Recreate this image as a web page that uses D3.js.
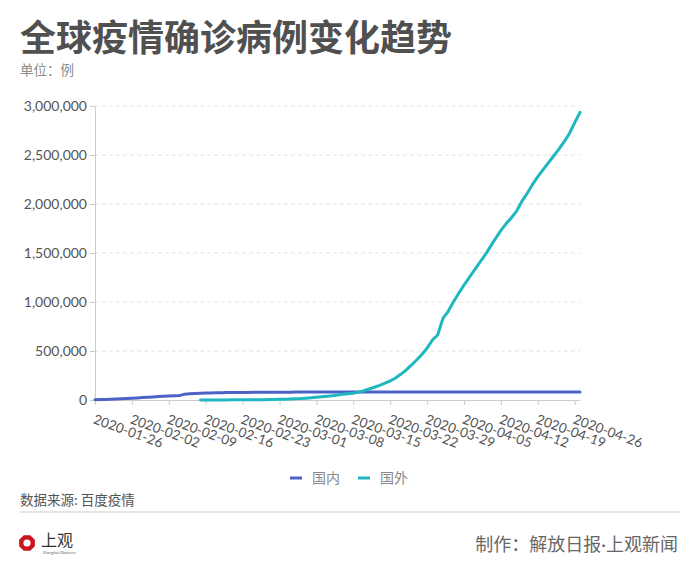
<!DOCTYPE html>
<html>
<head>
<meta charset="utf-8">
<script src="https://cdn.jsdelivr.net/npm/d3@7"></script>
<style>
  body { margin: 0; background: #fff; }
  svg { display: block; font-family: Lato, "Noto Sans CJK SC", sans-serif; }
  .cn { font-family: "Noto Sans CJK SC", sans-serif; }
</style>
</head>
<body>
<svg id="chart" width="700" height="576"></svg>
<script>
// series names
var seriesNames = ["国内", "国外"];

// x ticks (one per week)
var xTickLabels = ["2020-01-26", "2020-02-02", "2020-02-09", "2020-02-16", "2020-02-23",
  "2020-03-01", "2020-03-08", "2020-03-15", "2020-03-22", "2020-03-29",
  "2020-04-05", "2020-04-12", "2020-04-19", "2020-04-26"];

var yTicks = [0, 500000, 1000000, 1500000, 2000000, 2500000, 3000000];

// 国内: daily, 2020-01-26 .. 2020-04-27
var domesticStart = "2020-01-26";
var domestic = [
  2744, 4515, 5974, 7711, 9692, 11791,
  14380, 17205, 20438, 24324, 28018, 31161, 34546, 37198, 40171, 42638, 44653, 59804, 63851, 66492,
  68500, 70548, 72436, 74185, 74576, 75465, 76288, 76936, 77150, 77658, 78064, 78497, 78824, 79251, 79824,
  80026, 80151, 80270, 80409, 80552, 80651, 80695, 80735, 80754, 80778, 80793, 80813, 80824, 80844, 80860,
  80881, 80894, 80928, 80967, 81008, 81054, 81093, 81171, 81218, 81285, 81340, 81394, 81439, 81470, 81518, 81554,
  81589, 81620, 81639, 81669, 81708, 81740, 81802, 81865, 81907, 81953, 82052, 82160, 82249, 82295, 82341,
  82367, 82692, 82719, 82735, 82747, 82788, 82798, 82804, 82816, 82827, 82830, 82836
];

// 国外: daily, 2020-02-15 .. 2020-04-27
var foreignStart = "2020-02-15";
var foreign = [
  530, 640, 790, 900, 1070, 1170, 1400, 1600, 1800, 2100, 2500, 3000, 3700, 4500, 5800,
  7200, 8800, 10500, 12800, 15300, 19000, 23000, 27500, 32000, 37500, 44000, 52000, 59000, 64000, 70000,
  80000, 95000, 112000, 130000, 150000, 172000, 194000, 225000, 262000, 305000, 355000, 408000, 465000,
  530000, 612000, 663000,
  833000, 905000, 1003000, 1090000, 1173000, 1250000, 1327000, 1405000, 1480000, 1565000, 1650000,
  1730000, 1800000, 1860000, 1930000, 2030000, 2110000, 2200000, 2280000, 2350000, 2420000, 2490000,
  2560000, 2636000, 2720000, 2830000, 2935000
];

var colors = ["#4d62c6", "#1fb7bf"];

var parse = d3.utcParse("%Y-%m-%d");

// turn a start date + daily values into points
function toPoints(start, values) {
  var s = parse(start);
  return values.map(function(v, i) {
    return { date: d3.utcDay.offset(s, i), value: v };
  });
}

var domesticData = toPoints(domesticStart, domestic);
var foreignData = toPoints(foreignStart, foreign);

var svg = d3.select("#chart");

// title + unit
svg.append("text").attr("class", "cn")
  .attr("x", 20).attr("y", 51)
  .attr("font-size", 36).attr("font-weight", "bold").attr("fill", "#505050")
  .text("全球疫情确诊病例变化趋势");
svg.append("text").attr("class", "cn")
  .attr("x", 20).attr("y", 75)
  .attr("font-size", 13.5).attr("fill", "#8c8c8c")
  .text("单位：例");

var plotLeft = 95, plotRight = 580, plotTop = 106, plotBottom = 400;

var x = d3.scaleUtc()
  .domain([parse(domesticStart), domesticData[domesticData.length - 1].date])
  .range([plotLeft, plotRight]);

var y = d3.scaleLinear()
  .domain([0, 3000000])
  .range([plotBottom, plotTop]);

// grid lines
svg.append("g").selectAll("line")
  .data(yTicks.filter(function(d) { return d > 0; }))
  .enter().append("line")
  .attr("x1", plotLeft).attr("x2", plotRight)
  .attr("y1", d => y(d)).attr("y2", d => y(d))
  .attr("stroke", "#e2e2e2")
  .attr("stroke-dasharray", "4,3");

// y axis
var yAxis = svg.append("g")
  .attr("transform", "translate(" + plotLeft + ",0)")
  .call(d3.axisLeft(y).tickValues(yTicks).tickFormat(d3.format(",")).tickSize(5).tickPadding(3).tickSizeOuter(0));
yAxis.select(".domain").attr("stroke", "#cccccc");
yAxis.selectAll(".tick line").attr("stroke", "#cccccc");
yAxis.selectAll("text").attr("font-size", 14).attr("fill", "#555").attr("font-family", "Lato, sans-serif");

// x axis
var xAxis = svg.append("g")
  .attr("transform", "translate(0," + plotBottom + ")")
  .call(d3.axisBottom(x).tickValues(xTickLabels.map(parse)).tickFormat(d3.utcFormat("%Y-%m-%d")).tickSize(5).tickSizeOuter(0));
xAxis.select(".domain").attr("stroke", "#cccccc");
xAxis.selectAll(".tick line").attr("stroke", "#cccccc");
xAxis.selectAll("text")
  .attr("font-size", 13.5).attr("fill", "#555").attr("font-family", "Lato, sans-serif")
  .attr("text-anchor", "start")
  .attr("dy", null).attr("y", null)
  .attr("transform", "translate(-3,23) rotate(20)");

// lines
var line = d3.line()
  .x(d => x(d.date))
  .y(d => y(d.value));

svg.append("path").datum(domesticData)
  .attr("d", line)
  .attr("fill", "none").attr("stroke", colors[0]).attr("stroke-width", 3)
  .attr("stroke-linejoin", "round").attr("stroke-linecap", "round");

svg.append("path").datum(foreignData)
  .attr("d", line)
  .attr("fill", "none").attr("stroke", colors[1]).attr("stroke-width", 3)
  .attr("stroke-linejoin", "round").attr("stroke-linecap", "round");

// legend
var legend = svg.append("g").attr("transform", "translate(290,478)");
var legendX = [0, 68];
seriesNames.forEach(function(name, i) {
  var g = legend.append("g").attr("transform", "translate(" + legendX[i] + ",0)");
  g.append("line").attr("x1", 0).attr("x2", 12).attr("y1", 0).attr("y2", 0)
    .attr("stroke", colors[i]).attr("stroke-width", 3);
  g.append("text").attr("class", "cn")
    .attr("x", 22).attr("y", 5)
    .attr("font-size", 14).attr("fill", "#888")
    .text(name);
});

// source + divider
svg.append("text").attr("class", "cn")
  .attr("x", 20).attr("y", 505)
  .attr("font-size", 13.5).attr("fill", "#555")
  .text("数据来源: 百度疫情");
svg.append("line")
  .attr("x1", 20).attr("x2", 680).attr("y1", 512).attr("y2", 512)
  .attr("stroke", "#dddddd").attr("stroke-width", 1.5);

// logo
var logo = svg.append("g").attr("transform", "translate(27,543)");
var octagon = d3.range(8).map(function(i) {
  var a = Math.PI / 8 + i * Math.PI / 4;
  return [8.5 * Math.cos(a), 8.5 * Math.sin(a)];
});
logo.append("polygon").attr("points", octagon.join(" ")).attr("fill", "#c9151e");
logo.append("circle").attr("r", 3.6).attr("fill", "#fff");
logo.append("text").attr("class", "cn")
  .attr("x", 14).attr("y", 3)
  .attr("font-size", 16).attr("fill", "#333")
  .text("上观");
logo.append("text")
  .attr("x", 16).attr("y", 10.5)
  .attr("font-size", 4).attr("fill", "#666")
  .text("Shanghai Observer");

// credit, with a narrow middle dot
var credit = svg.append("text").attr("class", "cn")
  .attr("x", 678).attr("y", 551)
  .attr("text-anchor", "end")
  .attr("font-size", 18).attr("fill", "#666");
credit.append("tspan").text("制作：解放日报");
credit.append("tspan").attr("font-family", "Lato, sans-serif").text("·");
credit.append("tspan").text("上观新闻");
</script>
</body>
</html>
